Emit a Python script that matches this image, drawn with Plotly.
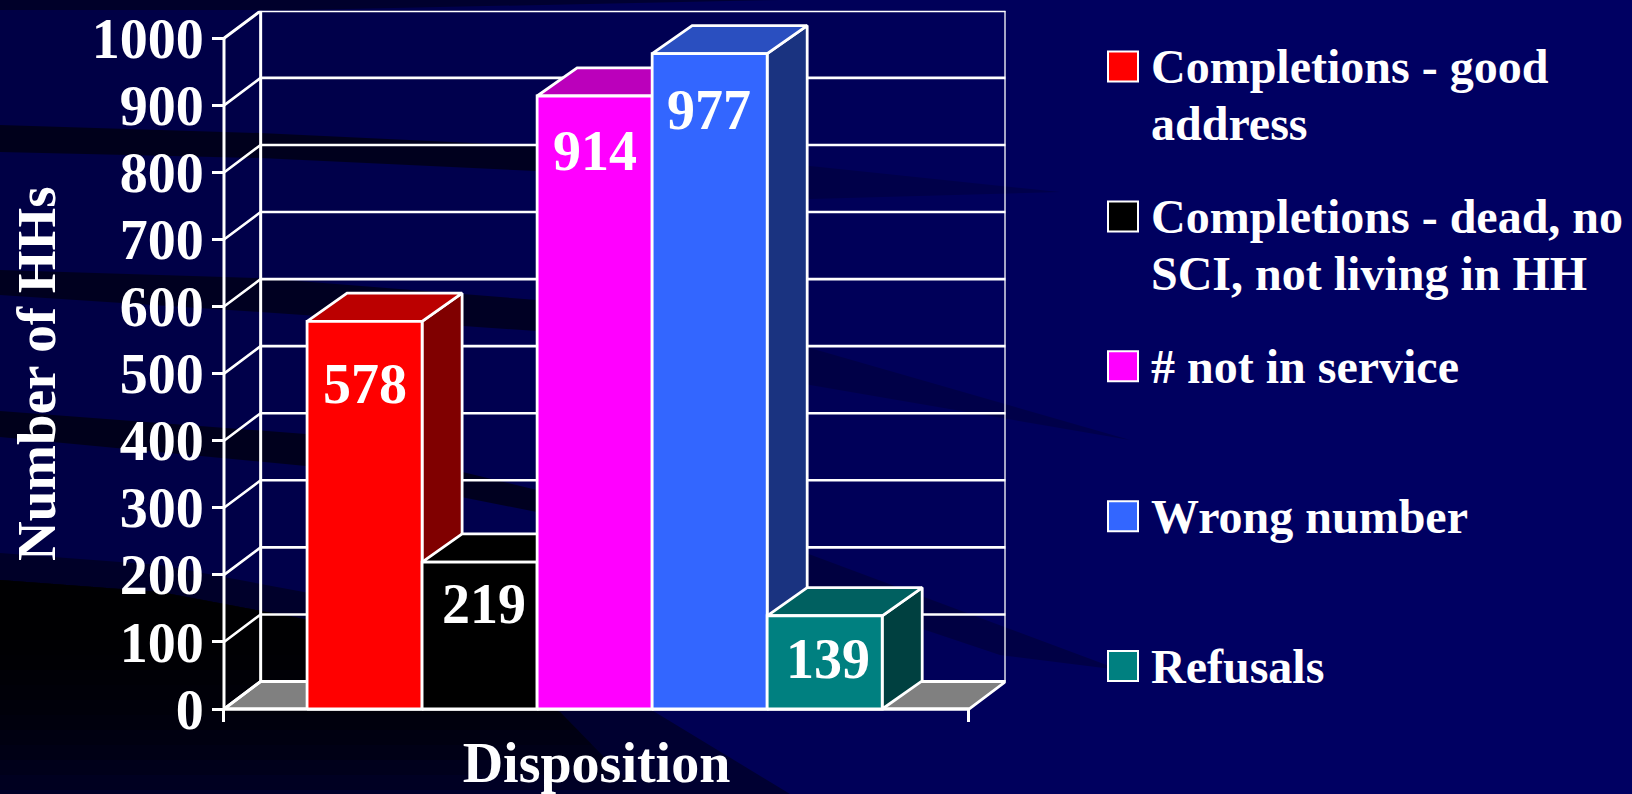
import plotly.graph_objects as go

# ---- data ----
categories = ["Completions - good address", "Completions - dead, no SCI, not living in HH",
              "# not in service", "Wrong number", "Refusals"]
values = [578, 219, 914, 977, 139]
y_ticks = [0, 100, 200, 300, 400, 500, 600, 700, 800, 900, 1000]
legend_lines = [["Completions - good", "address"],
                ["Completions - dead, no", "SCI, not living in HH"],
                ["# not in service"], ["Wrong number"], ["Refusals"]]

# ---- styles ----
W, H = 1632, 794
FONT = "Liberation Serif"
front = ["#ff0000", "#000000", "#ff00ff", "#3366ff", "#008080"]
top = ["#bb0000", "#000000", "#bb00bb", "#2a4fc0", "#006060"]
side = ["#800000", "#000000", "#800080", "#1a3380", "#004040"]
label_drop = [63, 42, 55, 56, 43]
label_dx = [-1, 3, -1, -3, 1]
LEFT, RIGHT, BASE, TOPY = 224.0, 969.0, 709.0, 38.3
DX, DV = 0.0492, 41.0      # depth of the walls in axis units
BAR_DX, BAR_DV = 0.0537, 42.0  # depth of the bars in axis units
GROUP = 0.772              # share of the category taken by the bars
BAR_SHIFT = -0.0025
LW = 2.8
PXX = (RIGHT - LEFT)
PXY = (BASE - TOPY) / 1000


def P(x, y):
    return f"{x / W:.5f},{1 - y / H:.5f}"


def poly(pts, opacity, color="#000000"):
    path = "M " + " L ".join(P(*p) for p in pts) + " Z"
    return dict(type="path", xref="paper", yref="paper", path=path, fillcolor=color,
                opacity=opacity, line=dict(width=0), layer="below")


bg = []
for i in range(10):
    bg.append(poly([(0, 0), (120 * (i + 1), 0), (120 * (i + 1), H), (0, H)], 0.028))
bg.append(poly([(0, 0), (780, 0), (300, 10), (0, 10)], 0.4))
# band 1
bg.append(poly([(0, 125), (260, 133), (537, 146), (537, 171), (260, 158), (0, 152)], 0.6))
bg.append(poly([(537, 146), (810, 166), (1060, 192), (810, 199), (537, 171)], 0.18))
# band 2
bg.append(poly([(0, 270), (260, 278), (537, 300), (537, 331), (260, 312), (0, 295)], 0.55))
bg.append(poly([(537, 300), (810, 348), (1130, 440), (810, 385), (537, 331)], 0.2))
# band 3
bg.append(poly([(0, 411), (306, 434), (537, 490), (537, 512), (306, 466), (0, 437)], 0.6))
bg.append(poly([(537, 490), (806, 553), (1120, 670), (1000, 655), (806, 590), (537, 512)], 0.25))
# lower-left dark wedge
bg.append(poly([(0, 553), (160, 565), (320, 595), (640, 703), (790, 794), (0, 794)], 0.42))
# black core that fades downwards in small steps
core = [(0, 580), (160, 592), (320, 622), (560, 712), (640, 794)]
for cut in range(640, 794, 15):
    pts = []
    for (xa, ya), (xb, yb) in zip(core, core[1:]):
        if yb <= cut:
            pts.append((xa, ya))
        elif ya < cut:
            pts.append((xa, ya))
            pts.append((xa + (xb - xa) * (cut - ya) / (yb - ya), cut))
            break
    bg.append(poly(pts + [(0, cut)], 0.19))

fig = go.Figure()


def face(xs, ys, color, name=""):
    fig.add_trace(go.Scatter(x=xs + xs[:1], y=ys + ys[:1], mode="lines", fill="toself", fillcolor=color,
                             line=dict(color="white", width=LW), showlegend=False, hoverinfo="skip", name=name))


def wire(xs, ys, width=2.6):
    fig.add_trace(go.Scatter(x=xs, y=ys, mode="lines", line=dict(color="white", width=width),
                             showlegend=False, hoverinfo="skip"))


# floor
face([-0.5, 0.5, 0.5 + DX, -0.5 + DX], [0, 0, DV, DV], "#808080", "floor")
# walls
for v in y_ticks:
    wire([-0.5, -0.5 + DX, 0.5 + DX], [v, v + DV, v + DV], 3 if v in (0, 1000) else 2.6)
wire([-0.5 + DX, -0.5 + DX], [DV, 1000 + DV], 3)
wire([0.5 + DX, 0.5 + DX], [DV, 1000 + DV], 2.6)
# axis lines
wire([-0.5, -0.5], [0, 1000], 3)
wire([-0.5, 0.5], [0, 0], 3)

# bars, painted from left to right
bw = GROUP / len(values)
for i, (name, v) in enumerate(zip(categories, values)):
    x0 = -GROUP / 2 + i * bw + BAR_SHIFT
    x1 = x0 + bw
    face([x1, x1 + BAR_DX, x1 + BAR_DX, x1], [0, BAR_DV, v + BAR_DV, v], side[i], name + " side")
    face([x0, x1, x1 + BAR_DX, x0 + BAR_DX], [v, v, v + BAR_DV, v + BAR_DV], top[i], name + " top")
    face([x0, x1, x1, x0], [0, 0, v, v], front[i], name)

annotations = []
for i, v in enumerate(values):
    annotations.append(dict(x=-GROUP / 2 + (i + 0.5) * bw, y=v, xref="x", yref="y", text=str(v),
                            showarrow=False, yshift=-label_drop[i], xshift=label_dx[i],
                            font=dict(family=FONT, size=56, color="white", weight="bold")))

# legend
shapes = list(bg)
for i, lines in enumerate(legend_lines):
    yc = 66.6 + i * 149.85
    shapes.append(dict(type="rect", xref="paper", yref="paper", x0=1108 / W, x1=1138 / W,
                       y0=1 - (yc + 15) / H, y1=1 - (yc - 15) / H, fillcolor=front[i],
                       line=dict(color="white", width=2)))
    for j, line in enumerate(lines):
        annotations.append(dict(x=1149 / W, y=1 - (yc + j * 57) / H, xref="paper", yref="paper",
                                xanchor="left", yanchor="middle", text=line, showarrow=False,
                                font=dict(family=FONT, size=48, color="white", weight="bold")))

title_font = dict(family=FONT, size=55, color="white", weight="bold")
fig.update_layout(
    width=W, height=H, margin=dict(l=0, r=0, t=0, b=0, autoexpand=False),
    paper_bgcolor="#000062", plot_bgcolor="rgba(0,0,0,0)", showlegend=False,
    shapes=shapes, annotations=annotations, hovermode=False,
    xaxis=dict(domain=[(LEFT - DX * PXX) / W, (RIGHT + DX * PXX) / W], range=[-0.5 - DX, 0.5 + DX],
               anchor="free", position=1 - BASE / H, showgrid=False, zeroline=False, showline=False,
               tickmode="array", tickvals=[-0.5, 0.5], ticktext=["", ""], ticks="outside", ticklen=12,
               tickwidth=2.5, tickcolor="white",
               title=dict(text="Disposition", font=dict(family=FONT, size=56, color="white", weight="bold"), standoff=19)),
    yaxis=dict(domain=[1 - (BASE + DV * PXY) / H, 1 - (TOPY - DV * PXY) / H], range=[-DV, 1000 + DV],
               anchor="free", position=LEFT / W, showgrid=False, zeroline=False, showline=False,
               tickmode="array", tickvals=y_ticks, ticks="outside", ticklen=12, tickwidth=2.5,
               tickcolor="white", ticklabelstandoff=-3,
               tickfont=dict(family=FONT, size=56, color="white", weight="bold"),
               title=dict(text="Number of HHs", font=title_font, standoff=17)),
    font=dict(family=FONT, color="white", size=55, weight="bold"),
)

fig.write_html("out.html", config=dict(displayModeBar=False),
               post_script="document.body.style.margin='0';document.body.style.overflow='hidden';")
